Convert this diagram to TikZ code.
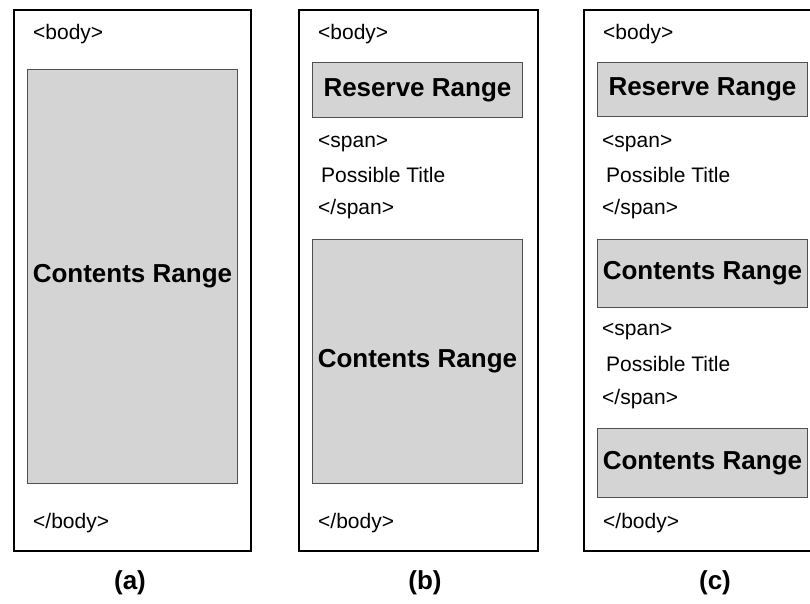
\documentclass[tikz,border=0pt]{standalone}
\usepackage{fontspec}
\setmainfont{Liberation Sans}
\definecolor{rangegray}{HTML}{D4D4D4}
\definecolor{rangeedge}{HTML}{505050}
\tikzset{
  pagebox/.style={draw=black, line width=2.4pt, fill=white, inner sep=0pt, anchor=north west},
  rangebox/.style={draw=rangeedge, line width=0.9pt, fill=rangegray, inner sep=0pt, anchor=north west,
    font=\fontsize{26}{28}\selectfont\bfseries},
  tagtext/.style={anchor=base west, inner sep=0pt, font=\fontsize{21}{24}\selectfont},
  captext/.style={anchor=base, inner sep=0pt, font=\fontsize{26}{28}\selectfont\bfseries}
}
\begin{document}
\begin{tikzpicture}[x=1pt, y=-1pt]
\clip (0,0) rectangle (810,603);
\fill[white] (0,0) rectangle (810,603);
% panel (a)
\node[pagebox, minimum width=237pt, minimum height=541pt] (pa) at (13,9) {};
\node[tagtext] (abody) at (33,39) {<body>};
\node[rangebox, minimum width=210pt, minimum height=414pt] (acont) at (27,69) {Contents Range};
\node[tagtext] (aebody) at (33,528) {</body>};
\node[captext] (capa) at (130,589) {(a)};
% panel (b)
\node[pagebox, minimum width=239pt, minimum height=541pt] (pb) at (298,9) {};
\node[tagtext] (bbody) at (318,39) {<body>};
\node[rangebox, minimum width=210pt, minimum height=55pt] (bres) at (312,62) {Reserve Range};
\node[tagtext] (bspan) at (318,147) {<span>};
\node[tagtext] (btitle) at (321,182) {Possible Title};
\node[tagtext] (bespan) at (318,214) {</span>};
\node[rangebox, minimum width=210pt, minimum height=244pt] (bcont) at (312,239) {Contents Range};
\node[tagtext] (bebody) at (318,528) {</body>};
\node[captext] (capb) at (425,589) {(b)};
% panel (c)
\node[pagebox, minimum width=238pt, minimum height=541pt] (pc) at (583,9) {};
\node[tagtext] (cbody) at (603,39) {<body>};
\node[rangebox, minimum width=210pt, minimum height=54pt] (cres) at (597,62) {Reserve Range};
\node[tagtext] (cspan) at (602,147) {<span>};
\node[tagtext] (ctitle) at (606,182) {Possible Title};
\node[tagtext] (cespan) at (602,214) {</span>};
\node[rangebox, minimum width=210pt, minimum height=68pt] (ccont) at (597,239) {Contents Range};
\node[tagtext] (cspanb) at (602,335) {<span>};
\node[tagtext] (ctitleb) at (606,371) {Possible Title};
\node[tagtext] (cespanb) at (602,404) {</span>};
\node[rangebox, minimum width=210pt, minimum height=69pt] (ccontb) at (597,428) {Contents Range};
\node[tagtext] (cebody) at (603,528) {</body>};
\node[captext] (capc) at (715,589) {(c)};
\end{tikzpicture}
\end{document}
